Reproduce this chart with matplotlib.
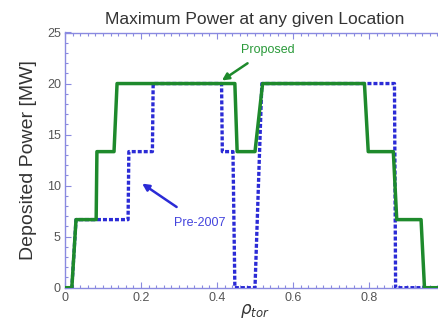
import matplotlib
matplotlib.use("Agg")
import matplotlib.pyplot as plt
from matplotlib.ticker import MultipleLocator, FuncFormatter

plt.rcParams['font.family'] = ['Liberation Sans', 'DejaVu Sans']

# Proposed (green, solid)
prop_x = [0, 0.018, 0.029, 0.082, 0.084, 0.129, 0.137, 0.447, 0.453, 0.500, 0.520,
          0.788, 0.798, 0.864, 0.873, 0.937, 0.946, 1.0]
prop_y = [0, 0, 6.67, 6.67, 13.33, 13.33, 20, 20, 13.33, 13.33, 20,
          20, 13.33, 13.33, 6.67, 6.67, 0, 0]

# Pre-2007 (blue, dashed)
pre_x = [0, 0.018, 0.029, 0.166, 0.168, 0.230, 0.232, 0.412, 0.414, 0.442, 0.447,
         0.500, 0.518, 0.867, 0.870, 1.0]
pre_y = [0, 0, 6.67, 6.67, 13.33, 13.33, 20, 20, 13.33, 13.33, 0,
         0, 20, 20, 0, 0]

x_ticks = [0, 0.2, 0.4, 0.6, 0.8]
y_ticks = [0, 5, 10, 15, 20, 25]

green = '#1e8a2c'
blue = '#2b2bd6'
spine = '#8a8ae0'

fig = plt.figure(figsize=(4.38, 3.22), dpi=100)
ax = fig.add_axes([65/438, (322-287.7)/322, 380/438, 255.2/322])

ax.plot(pre_x, pre_y, color=blue, lw=2.4, dashes=(1.2, 0.6), zorder=3)
ax.plot(prop_x, prop_y, color=green, lw=2.5, zorder=4)

ax.set_xlim(0, 1)
ax.set_ylim(0, 25)
ax.set_xticks(x_ticks)
ax.set_yticks(y_ticks)
ax.xaxis.set_major_formatter(FuncFormatter(lambda v, p: '0' if v == 0 else f'{v:.1f}'))
ax.xaxis.set_minor_locator(MultipleLocator(0.02))
ax.yaxis.set_minor_locator(MultipleLocator(1))
ax.tick_params(which='both', direction='in', top=True, right=True, color=spine,
               labelcolor='#555555', labelsize=9)
ax.tick_params(which='major', length=4, width=0.8, pad=3)
ax.tick_params(which='minor', length=2.5, width=0.8)
for s in ax.spines.values():
    s.set_color(spine)
    s.set_linewidth(1.0)

ax.set_title('Maximum Power at any given Location', fontsize=12.5, color='#333333', pad=6)
ax.set_ylabel('Deposited Power [MW]', fontsize=14, color='#333333', labelpad=7)
ax.set_xlabel(r'$\rho_{tor}$', fontsize=12, color='#333333', labelpad=-1)

ax.annotate('Proposed', xy=(0.413, 20.3), xytext=(0.533, 23.3), color='#2a9a3a',
            fontsize=9, ha='center', va='center',
            arrowprops=dict(arrowstyle='-|>', color=green, lw=1.8, mutation_scale=10,
                            shrinkA=6, shrinkB=0))
ax.annotate('Pre-2007', xy=(0.203, 10.2), xytext=(0.355, 6.36), color='#4444dd',
            fontsize=9, ha='center', va='center',
            arrowprops=dict(arrowstyle='-|>', color=blue, lw=1.8, mutation_scale=10,
                            shrinkA=9, shrinkB=0))

fig.savefig('out.png', dpi=100)
